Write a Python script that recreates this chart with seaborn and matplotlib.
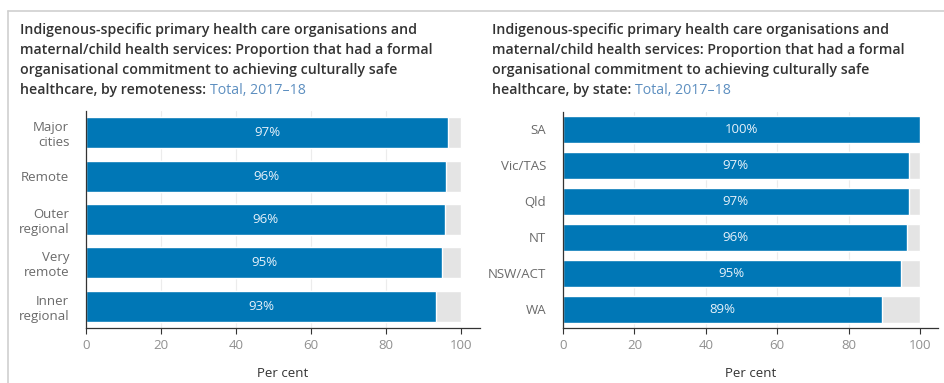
import matplotlib
matplotlib.use("Agg")
import matplotlib.pyplot as plt
from matplotlib.lines import Line2D
import seaborn as sns
import pandas as pd

sns.set_theme(style="white")
plt.rcParams["font.family"] = ["Open Sans", "DejaVu Sans"]

# Remoteness panel
remote_labels = ["Major\ncities", "Remote", "Outer\nregional", "Very\nremote", "Inner\nregional"]
remote_values = [96.6, 96.0, 95.7, 95.0, 93.4]

# State panel
state_labels = ["SA", "Vic/TAS", "Qld", "NT", "NSW/ACT", "WA"]
state_values = [100.0, 96.8, 96.8, 96.4, 94.6, 89.3]

x_ticks = [0, 20, 40, 60, 80, 100]
title_lines_common = ["Indigenous-specific primary health care organisations and",
                      "maternal/child health services: Proportion that had a formal",
                      "organisational commitment to achieving culturally safe"]
title_last_left = "healthcare, by remoteness:"
title_last_right = "healthcare, by state:"
title_sub = "Total, 2017\u201318"

BLUE = "#0077b6"
BG = "#e4e4e4"
W, H = 945, 383
fig = plt.figure(figsize=(W / 100, H / 100), dpi=100)


def fx(px):
    return px / W


def fy(py):
    return 1 - py / H


def panel(left_px, right_px, top_px, bottom_px, labels, values, bar_h):
    ax = fig.add_axes([fx(left_px), fy(bottom_px), fx(right_px - left_px),
                       (bottom_px - top_px) / H])
    df = pd.DataFrame({"cat": labels, "val": values, "full": [100] * len(labels)})
    for g in [20, 40, 60, 80]:
        ax.axvline(g, color="#ececec", lw=0.8, zorder=0)
    sns.barplot(data=df, y="cat", x="full", orient="h", color=BG, width=bar_h,
                saturation=1, ax=ax, zorder=1)
    sns.barplot(data=df, y="cat", x="val", orient="h", color=BLUE, width=bar_h,
                saturation=1, ax=ax, zorder=2)
    for i, v in enumerate(values):
        ax.text(v / 2, i, f"{v:.0f}%", ha="center", va="center", color="#e6f1fa",
                fontsize=9.5, zorder=3)
    ax.set_xlim(0, 105)
    ax.set_ylim(len(labels) - 0.5, -0.5)
    ax.set_xticks(x_ticks)
    ax.set_xticklabels([str(t) for t in x_ticks], color="#909090", fontsize=9.5)
    ax.tick_params(axis="x", bottom=True, length=4, width=0.8, color="#333333", pad=4)
    ax.tick_params(axis="y", left=False, pad=6)
    for lab in ax.get_yticklabels():
        lab.set_color("#6a6a6a")
        lab.set_fontsize(9.5)
        lab.set_horizontalalignment("right")
        lab.set_multialignment("right")
    ax.set_ylabel("")
    ax.set_xlabel("Per cent", color="#333333", fontsize=9.5, labelpad=11)
    for s in ["top", "right"]:
        ax.spines[s].set_visible(False)
    for s in ["left", "bottom"]:
        ax.spines[s].set_color("#333333")
        ax.spines[s].set_linewidth(0.9)
    return ax


panel(86, 480, 111, 328, remote_labels, remote_values, 0.71)
panel(563, 938, 111.5, 327.5, state_labels, state_values, 0.75)

# Titles: one text per line, coloured tail after the last line
renderer = fig.canvas.get_renderer()
line_y = [30, 50, 70, 90]
for x_px, last in [(20, title_last_left), (492, title_last_right)]:
    for y_px, line in zip(line_y[:3], title_lines_common):
        fig.text(fx(x_px), fy(y_px), line, ha="left", va="center", fontsize=10.2,
                 fontweight="semibold", color="#333333")
    t = fig.text(fx(x_px), fy(line_y[3]), last, ha="left", va="center",
                 fontsize=10.2, fontweight="semibold", color="#333333")
    bb = t.get_window_extent(renderer)
    fig.text((bb.x1 + 4) / W, fy(line_y[3]), title_sub, ha="left", va="center",
             fontsize=10.2, color="#5d8fc0")

# Thin panel frame lines
fig.add_artist(Line2D([fx(8), 1], [fy(11), fy(11)], color="#cfcfcf", lw=1.2))
fig.add_artist(Line2D([fx(8), fx(8)], [fy(11), 0], color="#cfcfcf", lw=1.2))

fig.savefig("out.png", dpi=100)
